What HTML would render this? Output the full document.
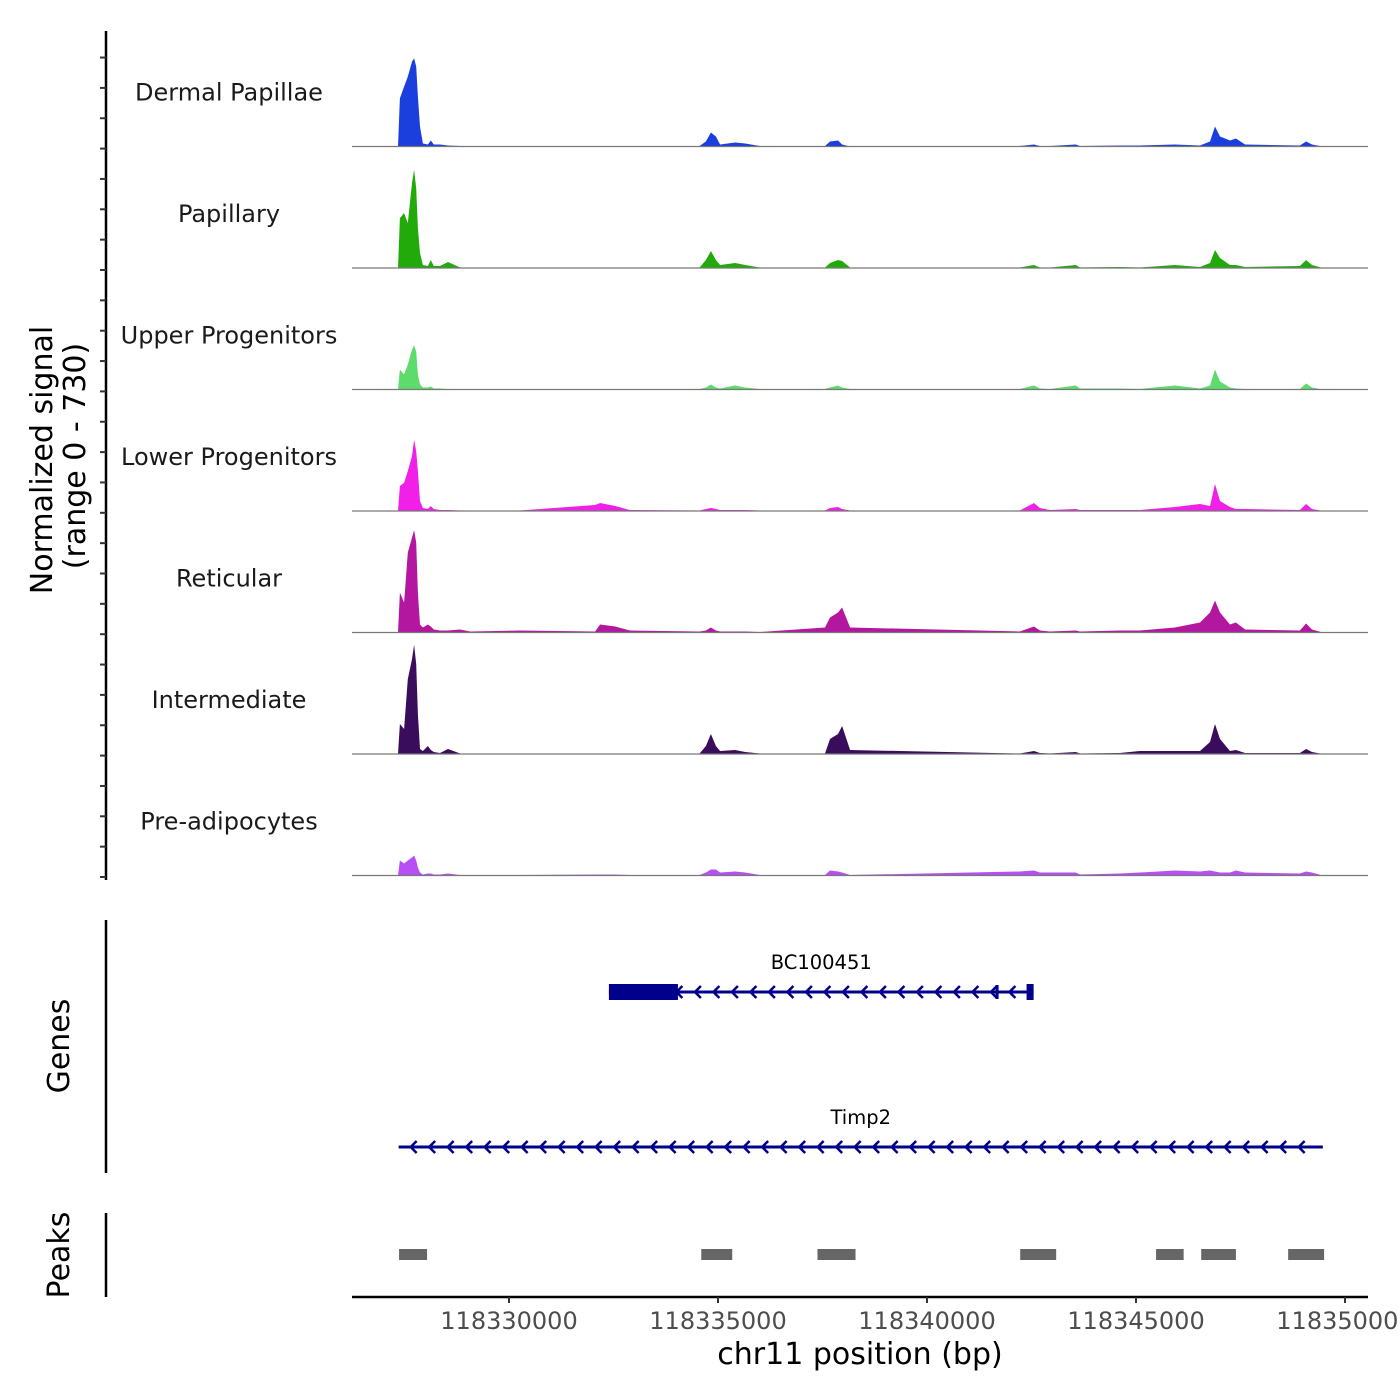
<!DOCTYPE html>
<html><head><meta charset="utf-8"><style>
html,body{margin:0;padding:0;background:#fff;}
svg{display:block;font-family:"DejaVu Sans","Liberation Sans",sans-serif;}
</style></head><body>
<svg id="chart" width="1400" height="1400" viewBox="0 0 1400 1400" xmlns="http://www.w3.org/2000/svg">
<g id="tracks"></g>
<g id="left-axis"></g>
<text transform="translate(52,460) rotate(-90)" text-anchor="middle" font-size="30" fill="#000">Normalized signal</text>
<text transform="translate(85,456) rotate(-90)" text-anchor="middle" font-size="30" fill="#000">(range 0 - 730)</text>
<line x1="106" y1="920" x2="106" y2="1173" stroke="#000" stroke-width="2.5"/>
<text transform="translate(69,1046) rotate(-90)" text-anchor="middle" font-size="30" fill="#000">Genes</text>
<line x1="106" y1="1213" x2="106" y2="1297" stroke="#000" stroke-width="2.5"/>
<text transform="translate(69,1255) rotate(-90)" text-anchor="middle" font-size="30" fill="#000">Peaks</text>
<g id="genes"></g>
<g id="peaks"></g>
<g id="xaxis"></g>
<text x="860" y="1364" text-anchor="middle" font-size="30" fill="#000">chr11 position (bp)</text>
</svg>
<script>
const trackNames = ["Dermal Papillae","Papillary","Upper Progenitors","Lower Progenitors","Reticular","Intermediate","Pre-adipocytes"];
const trackColors = ["#1a3fdc","#22aa0a","#5ddb6b","#f020e8","#b4179f","#3a0d5c","#b84ef5"];
const positionsKb = [327.345,327.39,327.49,327.58,327.68,327.73,327.78,327.82,327.87,327.94,328.06,328.13,328.20,328.35,328.54,328.83,329.07,330.26,332.06,332.18,332.54,332.89,334.56,334.71,334.83,334.95,335.05,335.41,335.65,336.00,337.56,337.68,337.87,337.97,338.16,342.22,342.56,342.70,342.94,343.56,343.66,344.61,345.09,345.93,346.53,346.77,346.89,347.01,347.25,347.39,347.61,348.92,349.07,349.21,349.47];
const sigDermal = [0,290,360,420,510,530,480,300,120,18,12,36,12,12,6,3,3,3,3,3,3,3,3,30,84,60,12,24,18,3,3,30,36,12,0,3,12,3,3,12,3,6,6,12,6,30,120,60,36,48,12,6,30,12,0];
const sigPapillary = [0,300,330,270,510,590,480,240,90,18,12,48,12,12,36,3,3,3,3,3,3,3,3,48,102,48,18,30,18,3,3,30,48,42,3,3,18,3,3,18,3,6,3,18,6,30,108,60,18,18,6,12,48,18,0];
const sigUpper = [0,120,90,150,240,265,228,90,30,12,12,18,6,6,3,3,3,3,3,3,3,3,3,12,30,12,6,24,12,3,3,12,24,12,3,3,24,6,3,24,6,6,3,24,6,24,120,48,12,6,3,3,36,12,0];
const sigLower = [0,150,170,240,330,428,360,240,60,18,12,30,12,6,6,3,3,3,36,48,30,6,3,12,18,12,6,6,6,3,3,18,24,12,3,3,48,18,6,12,6,6,6,24,42,30,162,60,24,12,12,6,42,12,0];
const sigReticular = [0,240,180,480,570,615,540,240,48,30,48,36,18,12,12,18,6,12,6,48,36,12,6,12,30,12,6,6,6,3,30,90,120,150,30,6,36,12,6,12,6,12,12,30,60,120,192,120,48,60,18,12,54,18,0];
const sigIntermediate = [0,180,150,450,570,657,540,240,30,18,48,24,12,6,30,3,3,3,3,3,3,3,3,48,120,48,18,24,12,3,3,90,120,168,24,3,18,6,3,12,3,6,18,18,18,72,180,90,18,24,6,6,30,12,0];
const sigPreadipo = [0,90,72,90,108,120,90,48,18,6,12,12,6,6,12,3,3,3,6,6,6,3,3,18,36,36,18,24,18,3,3,30,24,18,3,24,30,18,18,18,6,12,18,30,24,30,24,18,18,30,18,12,24,18,0];
const signals = [sigDermal,sigPapillary,sigUpper,sigLower,sigReticular,sigIntermediate,sigPreadipo];
const rangeMax = 730;
const xTicksKb = [118330000,118335000,118340000,118345000,118350000];
const geneNames = ["BC100451","Timp2"];
const geneStarts = [118332390,118327360];
const geneEnds = [118342550,118349470];
const peakStarts = [118327370,118334600,118337380,118342230,118345480,118346560,118348640];
const peakEnds = [118328040,118335340,118338290,118343090,118346140,118347390,118349500];

const NS = "http://www.w3.org/2000/svg";
function mk(tag, attrs, parent){const e=document.createElementNS(NS,tag);for(const k in attrs)e.setAttribute(k,attrs[k]);parent.appendChild(e);return e;}
const X0=352, X1=1368;
function xScale(bp){return 509 + (bp-118330000)*0.0418;}
const trackTop=25, trackH=121.5;
function yScale(v,i){return trackTop+(i+1)*trackH - v*(trackH/rangeMax);}

const tg=document.getElementById('tracks');
signals.forEach((s,i)=>{
  const base=yScale(0,i);
  let d="M"+xScale(positionsKb[0]*1000+118000000)+","+base;
  s.forEach((v,j)=>{d+=" L"+xScale(positionsKb[j]*1000+118000000).toFixed(1)+","+yScale(v,i).toFixed(1);});
  d+=" L"+xScale(positionsKb[positionsKb.length-1]*1000+118000000)+","+base+" Z";
  const p=mk('path',{d:d,fill:trackColors[i]},tg);
  
  
  const l=mk('line',{x1:X0,x2:X1,y1:base,y2:base,stroke:'#777','stroke-width':1.2},tg);
  
  
  const t=mk('text',{x:229,y:base-46,'text-anchor':'middle','font-size':24,fill:'#1a1a1a'},tg);
  t.textContent=trackNames[i];
  
  
});

const la=document.getElementById('left-axis');
const al=mk('line',{x1:106,y1:31,x2:106,y2:880,stroke:'#000','stroke-width':2.5},la);


for(let y=877;y>30;y-=30.35){
  const tk=mk('line',{x1:100,x2:106,y1:y,y2:y,stroke:'#333','stroke-width':2},la);
  
  
}

const gg=document.getElementById('genes');
const gy=[992,1147];
geneNames.forEach((n,i)=>{
  const xs=xScale(geneStarts[i]), xe=xScale(geneEnds[i]), y=gy[i];
  const ln=mk('line',{x1:xs,x2:xe,y1:y,y2:y,stroke:'#00008b','stroke-width':3},gg);
  
  
  for(let x=xs+12;x<xe-6;x+=18.5){
    const c=mk('polyline',{points:(x+6)+","+(y-6)+" "+x+","+y+" "+(x+6)+","+(y+6),fill:'none',stroke:'#00008b','stroke-width':2.5},gg);
    
    
  }
  const t=mk('text',{x:(xs+xe)/2,y:y-23,'text-anchor':'middle','font-size':19.5,fill:'#000'},gg);
  t.textContent=n;
  
  
  if(i===0){
    const b=mk('rect',{x:xs,y:y-8,width:69,height:16,fill:'#00008b'},gg);
    
    
    const b2=mk('rect',{x:xe-7,y:y-8,width:7,height:16,fill:'#00008b'},gg);
    
    
    const b3=mk('rect',{x:xe-38,y:y-7,width:3,height:14,fill:'#00008b'},gg);
    
    
  }
});

const pg=document.getElementById('peaks');
peakStarts.forEach((s,i)=>{
  const r=mk('rect',{x:xScale(s),y:1249,width:xScale(peakEnds[i])-xScale(s),height:11,fill:'#666'},pg);
  
  
});

const xg=document.getElementById('xaxis');
const xl=mk('line',{x1:X0,x2:X1,y1:1297,y2:1297,stroke:'#000','stroke-width':2.5},xg);


xTicksKb.forEach(v=>{
  const x=xScale(v);
  const tk=mk('line',{x1:x,x2:x,y1:1297,y2:1303,stroke:'#333','stroke-width':2},xg);
  
  
  const t=mk('text',{x:x,y:1329,'text-anchor':'middle','font-size':24,fill:'#4d4d4d'},xg);
  t.textContent=String(v);
  
  
});
</script>
</body></html>
